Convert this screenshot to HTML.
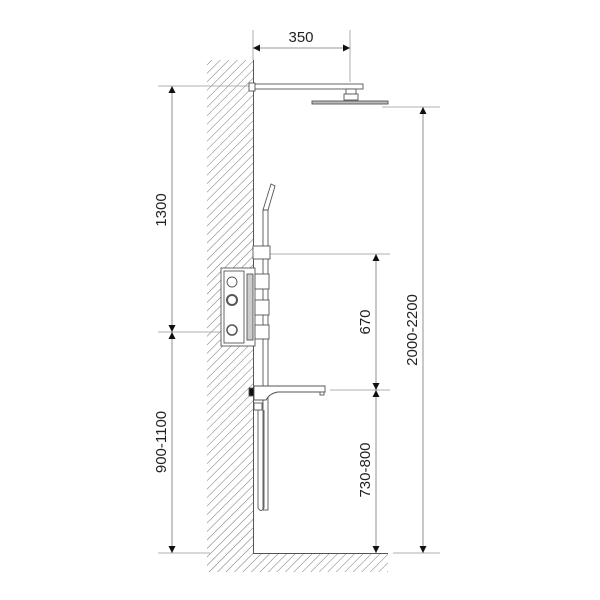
<!DOCTYPE html>
<html><head><style>body{margin:0;background:#fff}svg{display:block}text{font-family:"Liberation Sans",sans-serif;font-size:15px;fill:#222}</style></head><body>
<svg width="600" height="600" viewBox="0 0 600 600">
<defs>
<pattern id="h" patternUnits="userSpaceOnUse" width="6" height="6" patternTransform="rotate(45)">
<line x1="0" y1="0" x2="0" y2="6" stroke="#777" stroke-width="1"/>
</pattern>
<marker id="a" viewBox="0 0 10 10" refX="10" refY="5" markerWidth="7" markerHeight="11" orient="auto-start-reverse" markerUnits="userSpaceOnUse"><path d="M0,0L10,5L0,10z" fill="#111"/></marker>
</defs>
<rect x="207" y="60" width="46" height="512" fill="url(#h)"/>
<rect x="253" y="554" width="135" height="18" fill="url(#h)"/>
<path d="M253.5 60V553.5H388" fill="none" stroke="#555" stroke-width="1"/>
<g stroke="#999" stroke-width="0.8" fill="none">
<line x1="253" y1="30" x2="253" y2="60"/>
<line x1="350" y1="30" x2="350" y2="82"/>
<line x1="158" y1="86" x2="250" y2="86"/>
<line x1="158" y1="332" x2="222" y2="332"/>
<line x1="158" y1="553" x2="210" y2="553"/>
<line x1="270" y1="254" x2="390" y2="254"/>
<line x1="330" y1="390" x2="390" y2="390"/>
<line x1="382" y1="107" x2="440" y2="107"/>
<line x1="393" y1="553" x2="440" y2="553"/>
</g>
<g stroke="#777" stroke-width="0.8" marker-start="url(#a)" marker-end="url(#a)">
<line x1="253" y1="48" x2="350" y2="48"/>
<line x1="172" y1="86" x2="172" y2="332"/>
<line x1="172" y1="332" x2="172" y2="553"/>
<line x1="376" y1="254" x2="376" y2="390"/>
<line x1="376" y1="390" x2="376" y2="553"/>
<line x1="423" y1="107" x2="423" y2="553"/>
</g>
<text x="301" y="42" text-anchor="middle">350</text>
<text transform="translate(171,210) rotate(-90)" text-anchor="middle" y="-5">1300</text>
<text transform="translate(171,442) rotate(-90)" text-anchor="middle" y="-5">900-1100</text>
<text transform="translate(375,322) rotate(-90)" text-anchor="middle" y="-5">670</text>
<text transform="translate(375,470) rotate(-90)" text-anchor="middle" y="-5">730-800</text>
<text transform="translate(422,330) rotate(-90)" text-anchor="middle" y="-5">2000-2200</text>
<g stroke="#555" stroke-width="0.9" fill="#fff">
<rect x="249" y="83" width="6" height="8"/>
<rect x="255" y="84" width="108" height="5"/>
<rect x="346" y="89" width="10" height="5"/>
<rect x="344" y="94" width="14" height="6"/>
<rect x="312" y="101" width="76" height="3" fill="#bbb"/>
<rect x="263" y="210" width="5" height="300"/>
<path d="M263 210L271 184L275 186L268 210Z"/>
<rect x="253" y="246" width="17" height="13"/>
<rect x="221" y="268" width="34" height="78"/>
<rect x="224" y="271" width="20" height="72"/>
<rect x="247" y="274" width="6" height="66" fill="#ccc"/>
<circle cx="232" cy="282" r="5"/>
<circle cx="232" cy="300" r="5" stroke-width="2"/>
<circle cx="232" cy="330" r="5" stroke-width="1.5"/>
<rect x="255" y="274" width="14" height="15"/>
<rect x="255" y="300" width="14" height="15"/>
<rect x="255" y="325" width="14" height="14"/>
<rect x="249" y="388" width="5" height="8" fill="#111"/>
<path d="M254 386H325V392H278Q270 393 266 400H254Z"/>
<rect x="320" y="392" width="4" height="3"/>
<rect x="254" y="403" width="8" height="7"/>
<path d="M258 410V508Q261 513 264 508V410" fill="none"/>
</g>
</svg>
</body></html>
